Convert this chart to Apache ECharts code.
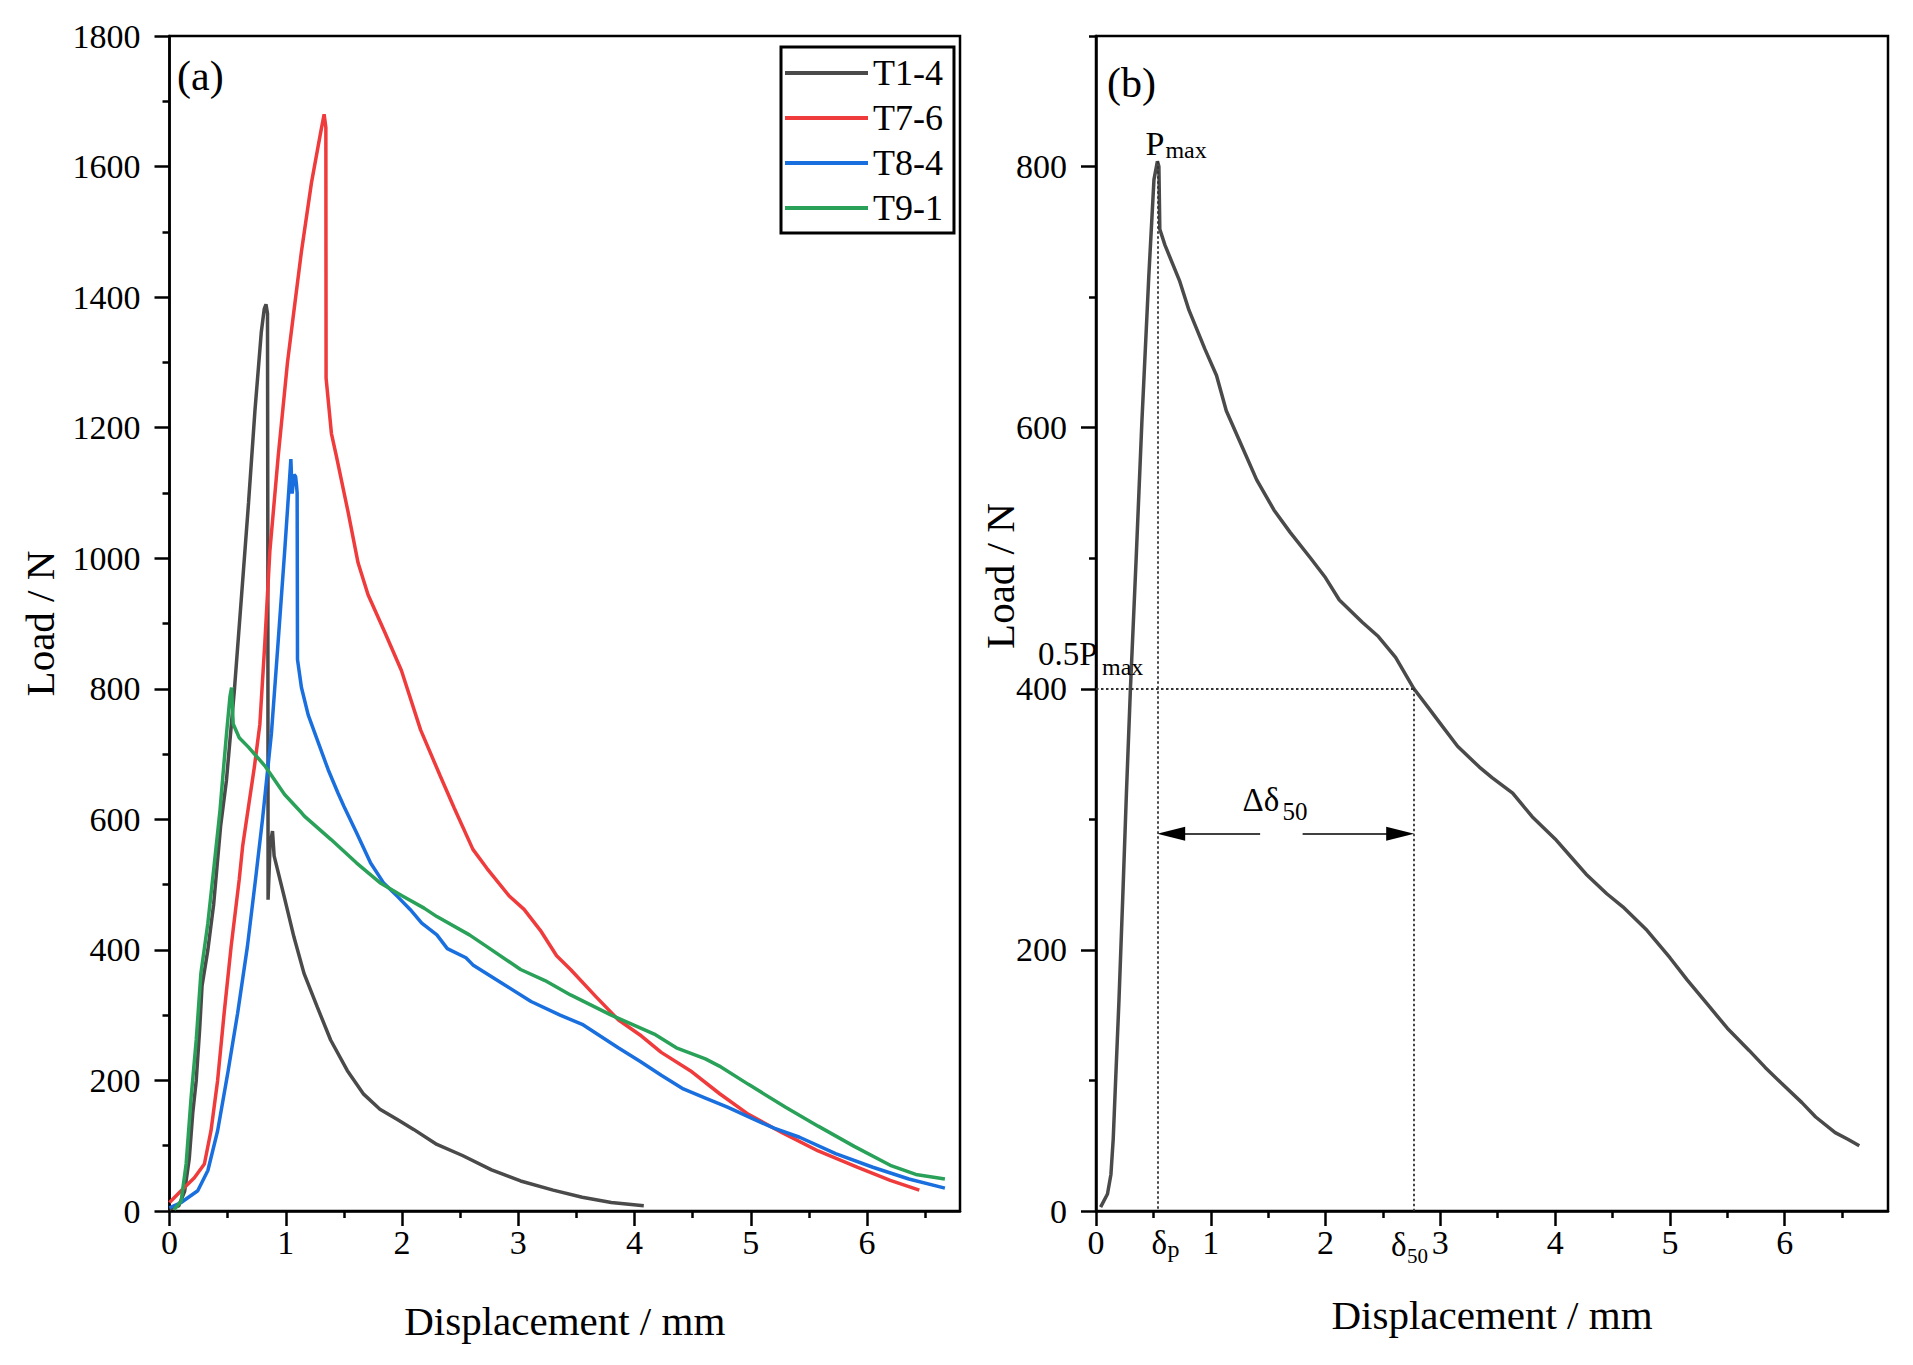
<!DOCTYPE html>
<html><head><meta charset="utf-8">
<script src="https://cdn.jsdelivr.net/npm/echarts@6/dist/echarts.min.js"></script>
<style>html,body{margin:0;padding:0;background:#fff}#c{width:1913px;height:1365px}</style>
</head><body><div id="c"></div>
<script>
// ---------- data ----------
const seriesNames = ['T1-4', 'T7-6', 'T8-4', 'T9-1'];
const seriesColors = ['#4a4a4a', '#ef3b3b', '#1a6fdf', '#2aa159'];

const T1_4 = [[0,3],[0.08,8],[0.13,30],[0.17,80],[0.2,150],[0.23,200],[0.26,280],[0.28,345],[0.33,400],[0.38,470],[0.44,590],[0.49,660],[0.56,802],[0.62,943],[0.68,1085],[0.735,1226],[0.79,1347],[0.815,1382],[0.83,1389],[0.843,1375],[0.846,1000],[0.848,477],[0.865,560],[0.886,582],[0.9,544],[0.986,482],[1.07,420],[1.157,364],[1.27,313],[1.386,262],[1.53,215],[1.67,179],[1.81,156],[1.96,140],[2.1,125],[2.3,102],[2.52,85],[2.77,63],[3.02,46],[3.3,32],[3.55,21],[3.8,13],[4.08,8]];

const T7_6 = [[0,13],[0.1,31],[0.214,51],[0.3,72],[0.357,123],[0.414,200],[0.47,303],[0.53,405],[0.6,508],[0.63,560],[0.68,620],[0.73,680],[0.777,745],[0.82,870],[0.863,1010],[0.935,1156],[1.015,1300],[1.064,1370],[1.135,1470],[1.221,1575],[1.3,1652],[1.33,1680],[1.345,1660],[1.347,1276],[1.393,1191],[1.436,1156],[1.536,1071],[1.622,993],[1.708,944],[1.851,887],[1.995,828],[2.16,737],[2.33,666],[2.45,617],[2.61,554],[2.73,525],[2.92,483],[3.05,462],[3.19,430],[3.33,391],[3.45,370],[3.67,328],[3.86,293],[4.06,268],[4.23,243],[4.48,215],[4.73,180],[4.98,148],[5.27,120],[5.58,92],[5.92,67],[6.2,47],[6.45,32]];

const T8_4 = [[0,5],[0.1,13],[0.243,31],[0.33,62],[0.414,123],[0.5,210],[0.586,303],[0.67,405],[0.74,508],[0.8,600],[0.877,732],[0.935,873],[0.992,1014],[1.027,1106],[1.044,1152],[1.055,1099],[1.072,1128],[1.085,1125],[1.092,1113],[1.098,1100],[1.101,845],[1.135,802],[1.193,760],[1.279,718],[1.365,676],[1.45,640],[1.5,620],[1.61,579],[1.73,533],[1.84,503],[1.96,482],[2.07,462],[2.17,441],[2.3,423],[2.39,402],[2.55,388],[2.61,377],[2.86,349],[3.11,321],[3.36,300],[3.55,286],[3.86,250],[4.05,229],[4.23,208],[4.42,187],[4.61,173],[4.8,159],[5.02,141],[5.2,127],[5.42,113],[5.73,88],[6.05,67],[6.36,49],[6.67,35]];

const T9_1 = [[0.04,2],[0.1,15],[0.143,72],[0.186,174],[0.23,262],[0.27,364],[0.33,441],[0.386,533],[0.434,613],[0.457,662],[0.491,732],[0.52,788],[0.534,802],[0.548,746],[0.6,725],[0.677,711],[0.82,682],[0.99,638],[1.136,610],[1.16,605],[1.39,569],[1.61,533],[1.81,503],[1.96,487],[2.0,483],[2.19,464],[2.3,451],[2.58,423],[2.73,405],[3.02,370],[3.23,353],[3.45,331],[3.61,317],[3.8,300],[3.98,286],[4.17,271],[4.36,250],[4.61,233],[4.73,222],[4.98,194],[5.3,159],[5.58,130],[5.89,99],[6.2,70],[6.42,56],[6.67,49]];

const panelB = [[0.04,3],[0.1,13],[0.13,28],[0.15,55],[0.17,98],[0.2,161],[0.233,240],[0.265,320],[0.3,400],[0.35,500],[0.40,605],[0.46,716],[0.505,790],[0.535,804],[0.548,800],[0.556,752],[0.6,740],[0.73,712],[0.81,690],[0.95,660],[1.05,640],[1.135,613],[1.25,590],[1.4,560],[1.55,537],[1.69,520],[1.87,500],[2.0,485],[2.12,468],[2.32,451],[2.46,440],[2.61,424],[2.77,400],[2.9,385],[3.02,371],[3.15,356],[3.34,340],[3.45,332],[3.63,320],[3.8,302],[4.0,285],[4.15,270],[4.27,258],[4.45,243],[4.59,233],[4.8,215],[5.0,194],[5.15,177],[5.33,158],[5.5,140],[5.69,123],[5.83,110],[5.97,98],[6.15,83],[6.27,72],[6.44,60],[6.55,55],[6.65,50]];

const xMajorTicks = [0, 1, 2, 3, 4, 5, 6];
const xMinorTicks = [0.5, 1.5, 2.5, 3.5, 4.5, 5.5, 6.5];
const yMajorTicksA = [0, 200, 400, 600, 800, 1000, 1200, 1400, 1600, 1800];
const yMinorTicksA = [100, 300, 500, 700, 900, 1100, 1300, 1500, 1700];
const yMajorTicksB = [0, 200, 400, 600, 800];
const yMinorTicksB = [100, 300, 500, 700, 900];

// annotation values for panel (b)
const pMax = 804, deltaP = 0.535, halfP = 400, delta50 = 2.77, arrowY = 289;
const arrowGap = [1.43, 1.80];
const arrowHead = 0.12; // half arrowhead length, in mm

// ---------- chart ----------
const FONT = '"Liberation Serif", "Times New Roman", serif';
const chart = echarts.init(document.getElementById('c'), null, {renderer: 'svg'});
const plain = v => String(v);

function majorX(grid, max, name, gap) {
  return {
    type: 'value', gridIndex: grid, position: 'bottom', min: 0, max: max,
    name: name, nameLocation: 'middle', nameGap: gap,
    nameTextStyle: {fontFamily: FONT, fontSize: 41, color: '#000'},
    axisLine: {show: true, onZero: false, lineStyle: {color: '#000', width: 2.5}},
    axisTick: {show: true, length: 15, customValues: xMajorTicks, lineStyle: {color: '#000', width: 2.5}},
    axisLabel: {show: true, customValues: xMajorTicks, formatter: plain, margin: 14, fontFamily: FONT, fontSize: 34, color: '#000'},
    splitLine: {show: false}
  };
}
function minorX(grid, max) {
  return {
    type: 'value', gridIndex: grid, position: 'bottom', min: 0, max: max,
    axisLine: {show: false, onZero: false},
    axisTick: {show: true, length: 7, customValues: xMinorTicks, lineStyle: {color: '#000', width: 2.5}},
    axisLabel: {show: false}, splitLine: {show: false}
  };
}
function majorY(grid, max, ticks, name, gap) {
  return {
    type: 'value', gridIndex: grid, position: 'left', min: 0, max: max,
    name: name, nameLocation: 'middle', nameGap: gap,
    nameTextStyle: {fontFamily: FONT, fontSize: 41, color: '#000'},
    axisLine: {show: true, onZero: false, lineStyle: {color: '#000', width: 2.5}},
    axisTick: {show: true, length: 15, customValues: ticks, lineStyle: {color: '#000', width: 2.5}},
    axisLabel: {show: true, customValues: ticks, formatter: plain, margin: 29, fontFamily: FONT, fontSize: 34, color: '#000'},
    splitLine: {show: false}
  };
}
function minorY(grid, max, ticks) {
  return {
    type: 'value', gridIndex: grid, position: 'left', min: 0, max: max,
    axisLine: {show: false, onZero: false},
    axisTick: {show: true, length: 7, customValues: ticks, lineStyle: {color: '#000', width: 2.5}},
    axisLabel: {show: false}, splitLine: {show: false}
  };
}

const curvesA = [T1_4, T7_6, T8_4, T9_1];
const series = curvesA.map((d, i) => ({
  name: seriesNames[i], type: 'line', xAxisIndex: 0, yAxisIndex: 0,
  data: d, showSymbol: false, symbol: 'none', smooth: false,
  lineStyle: {color: seriesColors[i], width: 3.5}, itemStyle: {color: seriesColors[i]},
  silent: true, animation: false, z: 3
}));

const dotted = {color: '#333', width: 1.8, type: [2.5, 2.5]};
series.push({
  name: 'b', type: 'line', xAxisIndex: 2, yAxisIndex: 2,
  data: panelB, showSymbol: false, symbol: 'none',
  lineStyle: {color: '#4a4a4a', width: 3.5}, itemStyle: {color: '#4a4a4a'},
  silent: true, animation: false, z: 3,
  markLine: {
    silent: true, animation: false, symbol: 'none', label: {show: false},
    lineStyle: dotted, emphasis: {disabled: true},
    data: [
      [{coord: [deltaP, pMax]}, {coord: [deltaP, 0]}],
      [{coord: [0, halfP]}, {coord: [delta50, halfP]}],
      [{coord: [delta50, halfP]}, {coord: [delta50, 0]}]
    ]
  }
});
series.push({
  name: 'arrows', type: 'line', xAxisIndex: 2, yAxisIndex: 2,
  data: [], showSymbol: false, symbol: 'none', silent: true, animation: false,
  markLine: {
    silent: true, animation: false, label: {show: false},
    lineStyle: {color: '#000', width: 1.5, type: 'solid'}, emphasis: {disabled: true},
    symbolSize: [14, 28],
    data: [
      [{coord: [deltaP + arrowHead, arrowY], symbol: 'triangle', symbolSize: [14, 28]}, {coord: [arrowGap[0], arrowY], symbol: 'none'}],
      [{coord: [arrowGap[1], arrowY], symbol: 'none'}, {coord: [delta50 - arrowHead, arrowY], symbol: 'triangle', symbolSize: [14, 28]}]
    ]
  }
});

const option = {
  backgroundColor: '#fff',
  animation: false,
  textStyle: {fontFamily: FONT},
  grid: [
    {left: 169.5, top: 36, width: 790.5, height: 1175, show: true, borderColor: '#000', borderWidth: 2.5, backgroundColor: 'rgba(0,0,0,0)', containLabel: false, outerBoundsMode: 'none'},
    {left: 1096, top: 36, width: 792, height: 1175, show: true, borderColor: '#000', borderWidth: 2.5, backgroundColor: 'rgba(0,0,0,0)', containLabel: false, outerBoundsMode: 'none'}
  ],
  xAxis: [
    majorX(0, 6.8, 'Displacement / mm', 89), minorX(0, 6.8),
    majorX(1, 6.9, 'Displacement / mm', 83), minorX(1, 6.9)
  ],
  yAxis: [
    majorY(0, 1800, yMajorTicksA, 'Load / N', 109), minorY(0, 1800, yMinorTicksA),
    majorY(1, 900, yMajorTicksB, '', 0), minorY(1, 900, yMinorTicksB)
  ],
  legend: {
    data: seriesNames, orient: 'vertical', left: 781, top: 47,
    icon: 'rect', itemWidth: 83, itemHeight: 4, itemGap: 9,
    padding: [8, 11, 7, 4],
    borderColor: '#000', borderWidth: 3, backgroundColor: '#fff',
    selectedMode: false,
    textStyle: {fontFamily: FONT, fontSize: 36, color: '#000', lineHeight: 36}
  },
  series: series
};
chart.setOption(option);

// ---------- text annotations ----------
function txt(text, left, baseline, fs, align) {
  return {type: 'text', x: left, y: baseline - 0.34 * fs, silent: true, z: 10,
    style: {text: text, fontFamily: FONT, fontSize: fs, fill: '#000', align: align || 'left', verticalAlign: 'middle'}};
}
const px = (x, y) => chart.convertToPixel({xAxisIndex: 2, yAxisIndex: 2}, [x, y]);
const pk = px(deltaP, pMax), hp = px(0, halfP), ar = px(deltaP, arrowY), dp0 = px(deltaP, 0), d50 = px(delta50, 0);

const graphics = [
  txt('(a)', 177, 90, 42),
  txt('(b)', 1107, 97, 42),
  txt('P', pk[0] - 12, pk[1] - 6, 34), txt('max', pk[0] + 8, pk[1] - 3, 24),
  txt('0.5P', hp[0] - 58, hp[1] - 24, 33), txt('max', hp[0] + 6, hp[1] - 14, 24),
  txt('\u0394\u03b4', ar[0] + 85, ar[1] - 22, 33), txt('50', ar[0] + 125, ar[1] - 14, 25),
  txt('\u03b4', dp0[0] - 6, dp0[1] + 43, 33), txt('p', dp0[0] + 10, dp0[1] + 46, 24),
  txt('\u03b4', d50[0] - 23, d50[1] + 45, 33), txt('50', d50[0] - 7, d50[1] + 52, 21),
  {type: 'text', x: 1000, y: 576, rotation: Math.PI / 2, silent: true,
    style: {text: 'Load / N', fontFamily: FONT, fontSize: 41, fill: '#000', align: 'center', verticalAlign: 'middle'}}
];
chart.setOption({graphic: graphics});
</script></body></html>
